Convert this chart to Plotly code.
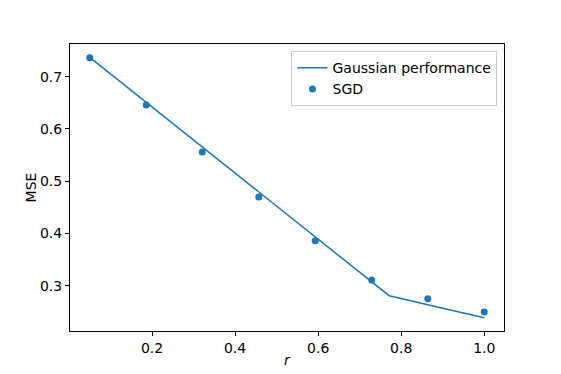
import plotly.graph_objects as go

# Data
r_line = [0.05, 0.2, 0.4, 0.6, 0.771, 0.9, 1.0]
mse_line = [0.737, 0.642, 0.516, 0.389, 0.281, 0.257, 0.239]

r_sgd = [0.05, 0.186, 0.321, 0.457, 0.593, 0.729, 0.864, 1.0]
mse_sgd = [0.736, 0.646, 0.556, 0.470, 0.386, 0.311, 0.275, 0.250]

y_ticks = [0.3, 0.4, 0.5, 0.6, 0.7]
x_ticks = [0.2, 0.4, 0.6, 0.8, 1.0]

BLUE = "#1f77b4"
FONT = "DejaVu Sans"

fig = go.Figure()
fig.add_trace(go.Scatter(
    x=r_line, y=mse_line, mode="lines", name="Gaussian performance",
    line=dict(color=BLUE, width=1.5),
))
fig.add_trace(go.Scatter(
    x=r_sgd, y=mse_sgd, mode="markers", name="SGD",
    marker=dict(color=BLUE, size=7),
))

axis_common = dict(
    showline=True, linecolor="black", linewidth=1, mirror=True,
    ticks="outside", ticklen=4, tickcolor="black", showgrid=False,
    zeroline=False, automargin=False,
    tickfont=dict(family=FONT, size=14, color="black"),
)

# page body has an 8px margin, so the figure is 8px smaller than the window
fig.update_layout(
    width=553, height=366,
    margin=dict(l=62, r=57, t=36, b=43),
    paper_bgcolor="white", plot_bgcolor="white",
    font=dict(family=FONT, size=14, color="black"),
    xaxis=dict(
        range=[0.0025, 1.0475], tickvals=x_ticks,
        ticktext=[f"{v:.1f}" for v in x_ticks],
        title=dict(text="<i>r</i>", font=dict(family=FONT, size=14), standoff=0),
        **axis_common,
    ),
    yaxis=dict(
        range=[0.2135, 0.7625], tickvals=y_ticks,
        ticktext=[f"{v:.1f}" for v in y_ticks],
        title=dict(text="MSE", font=dict(family=FONT, size=14), standoff=0),
        **axis_common,
    ),
    legend=dict(
        x=0.985, y=0.975, xanchor="right", yanchor="top",
        bordercolor="#cccccc", borderwidth=1, bgcolor="white",
        font=dict(family=FONT, size=14), tracegroupgap=0,
    ),
    showlegend=True,
)

fig.write_html("out.html")
